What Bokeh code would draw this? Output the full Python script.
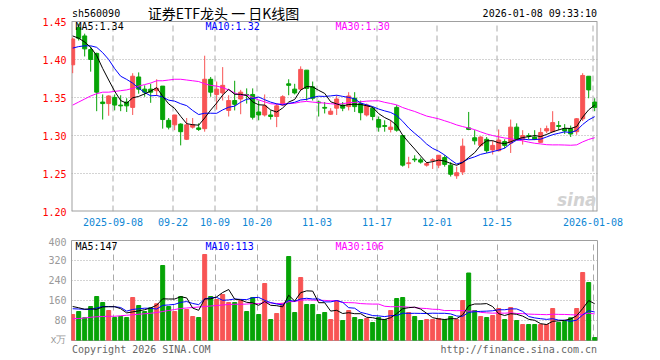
import numpy as np
from bokeh.plotting import figure
from bokeh.layouts import column
from bokeh.models import Range1d, FixedTicker, PrintfTickFormatter, Label, ColumnDataSource
from bokeh.embed import file_html
from bokeh.resources import INLINE

# ---------------- data ----------------
stock_code = "sh560090"
chart_title = "证券ETF龙头 一 日K线图"
timestamp = "2026-01-08 09:33:10"

opens = [1.393, 1.442, 1.431, 1.413, 1.408, 1.344, 1.342, 1.350, 1.340, 1.344,
         1.337, 1.377, 1.361, 1.361, 1.359, 1.365, 1.320, 1.314, 1.315, 1.295,
         1.311, 1.310, 1.309, 1.374, 1.354, 1.356, 1.333, 1.346, 1.348, 1.354,
         1.354, 1.331, 1.327, 1.327, 1.325, 1.340, 1.368, 1.361, 1.361, 1.386,
         1.364, 1.344, 1.337, 1.328, 1.336, 1.340, 1.338, 1.349, 1.342, 1.327,
         1.336, 1.321, 1.313, 1.308, 1.337, 1.300, 1.263, 1.269, 1.268, 1.261,
         1.267, 1.261, 1.271, 1.261, 1.247, 1.252, 1.310, 1.297, 1.287, 1.295,
         1.281, 1.280, 1.292, 1.290, 1.311, 1.295, 1.300, 1.298, 1.291, 1.306,
         1.305, 1.313, 1.309, 1.309, 1.305, 1.322, 1.378, 1.344]
highs = [1.429, 1.447, 1.434, 1.417, 1.409, 1.354, 1.353, 1.354, 1.353, 1.349,
         1.382, 1.383, 1.366, 1.368, 1.374, 1.365, 1.323, 1.327, 1.316, 1.323,
         1.323, 1.316, 1.405, 1.377, 1.371, 1.390, 1.353, 1.372, 1.360, 1.362,
         1.362, 1.346, 1.354, 1.333, 1.342, 1.353, 1.374, 1.368, 1.391, 1.386,
         1.371, 1.346, 1.344, 1.336, 1.353, 1.344, 1.357, 1.357, 1.346, 1.342,
         1.338, 1.325, 1.320, 1.320, 1.340, 1.300, 1.272, 1.274, 1.271, 1.265,
         1.270, 1.274, 1.274, 1.265, 1.259, 1.296, 1.331, 1.307, 1.299, 1.298,
         1.293, 1.308, 1.295, 1.321, 1.316, 1.307, 1.303, 1.307, 1.310, 1.313,
         1.332, 1.319, 1.315, 1.313, 1.323, 1.382, 1.378, 1.349]
lows = [1.382, 1.425, 1.404, 1.384, 1.332, 1.321, 1.326, 1.333, 1.332, 1.331,
        1.327, 1.355, 1.351, 1.343, 1.352, 1.309, 1.308, 1.307, 1.287, 1.294,
        1.309, 1.306, 1.305, 1.351, 1.334, 1.346, 1.325, 1.333, 1.328, 1.342,
        1.321, 1.320, 1.325, 1.321, 1.311, 1.339, 1.353, 1.354, 1.359, 1.346,
        1.346, 1.325, 1.329, 1.327, 1.327, 1.332, 1.333, 1.331, 1.320, 1.325,
        1.320, 1.305, 1.305, 1.304, 1.305, 1.259, 1.257, 1.265, 1.263, 1.259,
        1.256, 1.257, 1.259, 1.246, 1.243, 1.248, 1.307, 1.288, 1.285, 1.277,
        1.275, 1.279, 1.283, 1.277, 1.294, 1.288, 1.295, 1.294, 1.290, 1.303,
        1.304, 1.307, 1.302, 1.298, 1.301, 1.319, 1.349, 1.332]
closes = [1.427, 1.428, 1.414, 1.400, 1.357, 1.342, 1.352, 1.340, 1.339, 1.339,
          1.378, 1.361, 1.357, 1.357, 1.362, 1.321, 1.311, 1.327, 1.305, 1.314,
          1.314, 1.308, 1.374, 1.357, 1.361, 1.366, 1.346, 1.341, 1.357, 1.353,
          1.324, 1.327, 1.339, 1.325, 1.339, 1.351, 1.366, 1.356, 1.387, 1.362,
          1.349, 1.343, 1.336, 1.332, 1.348, 1.336, 1.352, 1.338, 1.330, 1.340,
          1.325, 1.311, 1.312, 1.311, 1.307, 1.261, 1.264, 1.268, 1.265, 1.263,
          1.268, 1.274, 1.262, 1.249, 1.251, 1.286, 1.308, 1.293, 1.298, 1.280,
          1.287, 1.294, 1.287, 1.311, 1.295, 1.300, 1.299, 1.295, 1.304, 1.309,
          1.317, 1.312, 1.306, 1.302, 1.322, 1.379, 1.360, 1.337]
volumes = [104, 116, 91, 136, 176, 152, 120, 92, 96, 92,
           172, 140, 116, 131, 147, 300, 136, 116, 176, 124,
           96, 92, 344, 176, 164, 184, 152, 152, 160, 116,
           172, 104, 228, 84, 108, 149, 336, 112, 252, 144,
           144, 104, 112, 84, 160, 80, 120, 92, 84, 88,
           72, 92, 84, 120, 168, 172, 112, 96, 80, 84,
           84, 88, 84, 96, 84, 160, 270, 120, 96, 92,
           100, 128, 84, 132, 80, 64, 64, 64, 64, 64,
           128, 72, 76, 91, 128, 272, 232, 12]

# moving-average values before a full window exists
price_ma5_head = [1.431, 1.428, 1.423, 1.416]
price_ma10_head = [1.415, 1.417, 1.418, 1.418, 1.416, 1.409, 1.400, 1.388, 1.378]
price_ma30_head = [1.340, 1.344, 1.348, 1.352, 1.355, 1.357, 1.357, 1.358, 1.359, 1.360,
                   1.362, 1.365, 1.367, 1.369, 1.372, 1.372, 1.373, 1.374, 1.374, 1.373,
                   1.372, 1.371, 1.368, 1.366, 1.365, 1.363, 1.360, 1.356, 1.353]
vol_ma5_head = [136, 131, 125, 127]
vol_ma10_head = [127, 126, 125, 124, 130, 136, 136, 135, 132]
vol_ma30_head = [87, 88, 90, 93, 95, 96, 97, 97, 99, 101,
                 103, 105, 107, 109, 112, 116, 120, 124, 128, 130,
                 132, 134, 136, 138, 140, 142, 144, 145, 145]

tick_index = [7, 17, 24, 31, 41, 51, 61, 71, 87]
tick_labels = ["2025-09-08", "09-22", "10-09", "10-20", "11-03",
               "11-17", "12-01", "12-15", "2026-01-08"]
price_min, price_max = 1.20, 1.45
price_ticks = [1.20, 1.25, 1.30, 1.35, 1.40, 1.45]
price_grid = [1.25, 1.30, 1.35, 1.40]
volume_ticks = [0, 80, 160, 240, 320, 400]
volume_grid = [80, 160, 240, 320]
volume_unit = "x万"
copyright_text = "Copyright 2026 SINA.COM"
source_url = "http://finance.sina.com.cn"

# ---------------- layout constants (page pixels) ----------------
W = 652
LEFT, RIGHT = 71, 55
FRAME_W = W - LEFT - RIGHT          # 526 px
PX_PER_DAY = 6.0
X0 = 0.083
X1 = X0 + FRAME_W / PX_PER_DAY
DX = 0.28                            # candle offset from the date grid line
BODY_W = 4 / PX_PER_DAY

HEAD_H = 21                          # header strip inside the price canvas
P1_BOX, P1_BOTTOM = 190, 25
P2_TOP, P2_FRAME, P2_BOTTOM = 4, 100, 4
FOOTER_H = 12

RED = "#F85454"
GREEN = "#06A406"
BORDER = "#A0A0A0"
MONO = "DejaVu Sans Mono"


def xu(page_x):
    return X0 + (page_x - LEFT) / PX_PER_DAY


def yp(page_y):
    return price_max - (page_y - HEAD_H) * (price_max - price_min) / P1_BOX


def ma(values, n, head):
    arr = np.asarray(values, dtype=float)
    full = np.convolve(arr, np.ones(n) / n, mode="valid")
    return np.concatenate([np.asarray(head, dtype=float), full])


o = np.array(opens); c = np.array(closes)
h = np.array(highs); l = np.array(lows)
v = np.array(volumes, dtype=float)
xs = np.arange(len(closes)) + DX
up = c >= o
colors = [RED if u else GREEN for u in up]

pma5 = ma(closes, 5, price_ma5_head)
pma10 = ma(closes, 10, price_ma10_head)
pma30 = ma(closes, 30, price_ma30_head)
vma5 = ma(volumes, 5, vol_ma5_head)
vma10 = ma(volumes, 10, vol_ma10_head)
vma30 = ma(volumes, 30, vol_ma30_head)

src = ColumnDataSource(dict(
    x=xs, top=np.maximum(o, c), bottom=np.minimum(o, c), high=h, low=l,
    vol=v, color=colors, pma5=pma5, pma10=pma10, pma30=pma30,
    vma5=vma5, vma10=vma10, vma30=vma30,
))

x_range = Range1d(X0, X1)


def style_axes(p):
    for ax in (p.xaxis, p.yaxis):
        ax.axis_line_color = None
        ax.major_tick_line_color = None
        ax.minor_tick_line_color = None
        ax.major_tick_out = 0
        ax.major_tick_in = 0
        ax.major_label_text_font = MONO
        ax.major_label_text_font_size = "10px"
    p.yaxis.major_label_standoff = 5
    p.ygrid.grid_line_color = "#A8A8A8"
    p.ygrid.grid_line_dash = "1 2"
    p.ygrid.grid_line_width = 1


def label(p, text, x, y, color, align="left", size="10px", font=MONO, style="normal"):
    p.add_layout(Label(x=x, y=y, text=text, text_color=color, text_align=align,
                       text_baseline="middle", text_font=font, text_font_size=size,
                       text_font_style=style))


# ---------------- price panel (header strip on top of the same canvas) ----------------
p1 = figure(width=W, height=HEAD_H + P1_BOX + P1_BOTTOM, x_range=x_range,
            y_range=Range1d(price_min, yp(0)),
            output_backend="svg", toolbar_location=None,
            min_border_left=LEFT, min_border_right=RIGHT,
            min_border_top=0, min_border_bottom=P1_BOTTOM,
            background_fill_color="white", border_fill_color="white")
p1.outline_line_color = None
style_axes(p1)
p1.xgrid.visible = False
p1.yaxis.ticker = FixedTicker(ticks=price_ticks)
p1.yaxis.formatter = PrintfTickFormatter(format="%.2f")
p1.yaxis.major_label_text_color = "#FF0000"
p1.ygrid.ticker = FixedTicker(ticks=price_grid)
p1.xaxis.ticker = FixedTicker(ticks=tick_index)
p1.xaxis.major_label_overrides = dict(zip(tick_index, tick_labels))
p1.xaxis.major_label_text_color = "#0E86D4"
p1.xaxis.major_label_standoff = 6

# date grid lines and the box around the price area
p1.segment(x0=tick_index, y0=price_min, x1=tick_index, y1=price_max,
           line_color="#AAAAAA", line_dash="6 4", line_width=1)
p1.segment(x0=[X0, X1, X0], y0=[price_min, price_min, price_min],
           x1=[X0, X1, X1], y1=[price_max, price_max, price_min],
           line_color=BORDER, line_width=2)
p1.segment(x0=[X0], y0=[price_max], x1=[X1], y1=[price_max],
           line_color=BORDER, line_width=1)

p1.segment(x0="x", y0="low", x1="x", y1="high", color="color", line_width=1, source=src)
p1.vbar(x="x", width=BODY_W, top="top", bottom="bottom", fill_color="color",
        line_color="color", line_width=1, source=src)
p1.line("x", "pma30", color="#FF00FF", line_width=1, source=src)
p1.line("x", "pma10", color="#0000FF", line_width=1, source=src)
p1.line("x", "pma5", color="#000000", line_width=1, source=src)

label(p1, stock_code, xu(71.5), yp(13), "#000000")
label(p1, chart_title, xu(223), yp(12), "#000000", align="center", size="14px",
      font="Noto Sans CJK SC")
label(p1, timestamp, xu(596.5), yp(13), "#000000", align="right")
label(p1, f"MA5:{pma5[-1]:.2f}", xu(75), yp(26), "#000000")
label(p1, f"MA10:{pma10[-1]:.2f}", xu(205), yp(26), "#0000FF")
label(p1, f"MA30:{pma30[-1]:.2f}", xu(335), yp(26), "#FF00FF")
label(p1, "sina", xu(596), yp(199), "#D2D2D2", align="right", size="17px",
      font="DejaVu Sans", style="bold italic")

# ---------------- volume panel ----------------
p2_top_page = HEAD_H + P1_BOX + P1_BOTTOM + P2_TOP


def yv(page_y):
    return (p2_top_page + P2_FRAME - page_y) * 400.0 / P2_FRAME


p2 = figure(width=W, height=P2_TOP + P2_FRAME + P2_BOTTOM, x_range=x_range,
            y_range=Range1d(0, 400),
            output_backend="svg", toolbar_location=None,
            min_border_left=LEFT, min_border_right=RIGHT,
            min_border_top=P2_TOP, min_border_bottom=P2_BOTTOM,
            background_fill_color="white", border_fill_color="white")
p2.outline_line_color = BORDER
p2.outline_line_width = 1
style_axes(p2)
p2.xaxis.visible = False
p2.xgrid.ticker = FixedTicker(ticks=tick_index)
p2.xgrid.grid_line_color = "#AAAAAA"
p2.xgrid.grid_line_dash = "6 4"
p2.yaxis.ticker = FixedTicker(ticks=volume_ticks)
p2.yaxis.major_label_overrides = {0: volume_unit}
p2.yaxis.major_label_text_color = "#999999"
p2.ygrid.ticker = FixedTicker(ticks=volume_grid)

p2.vbar(x="x", width=BODY_W, top="vol", bottom=0, fill_color="color",
        line_color="color", line_width=1, source=src)
p2.line("x", "vma30", color="#FF00FF", line_width=1, source=src)
p2.line("x", "vma10", color="#0000FF", line_width=1, source=src)
p2.line("x", "vma5", color="#000000", line_width=1, source=src)

label(p2, f"MA5:{int(vma5[-1])}", xu(75), yv(246), "#000000")
label(p2, f"MA10:{int(vma10[-1])}", xu(205), yv(246), "#0000FF")
label(p2, f"MA30:{int(vma30[-1])}", xu(335), yv(246), "#FF00FF")

# ---------------- footer ----------------
footer = figure(width=W, height=FOOTER_H, x_range=x_range, y_range=Range1d(FOOTER_H, 0),
                output_backend="svg", toolbar_location=None,
                min_border_left=LEFT, min_border_right=RIGHT,
                min_border_top=0, min_border_bottom=0,
                background_fill_color="white", border_fill_color="white")
footer.xaxis.visible = False
footer.yaxis.visible = False
footer.grid.visible = False
footer.outline_line_color = None
label(footer, copyright_text, xu(71.5), 5, "#666666")
label(footer, source_url, xu(596.5), 5, "#666666", align="right")

layout = column(p1, p2, footer, spacing=0)
open("out.html", "w").write(file_html(layout, INLINE))
